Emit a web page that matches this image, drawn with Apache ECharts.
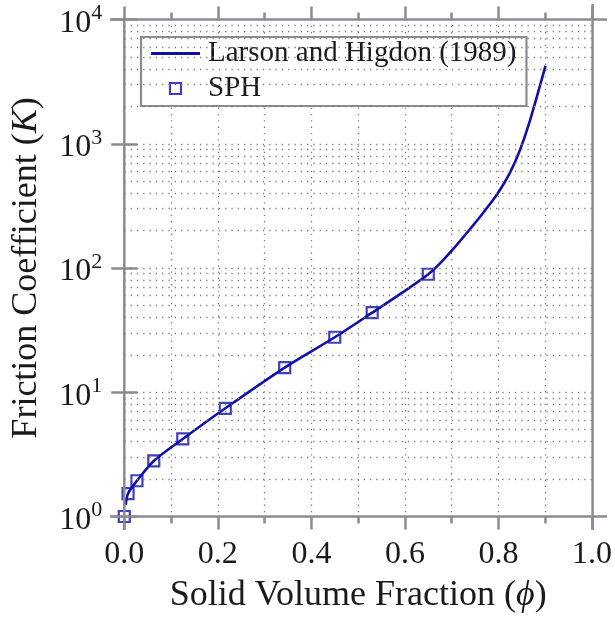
<!DOCTYPE html>
<html>
<head>
<meta charset="utf-8">
<script src="https://cdn.jsdelivr.net/npm/echarts@6/dist/echarts.min.js"></script>
<style>
html,body{margin:0;padding:0;background:#fff;}
#chart{width:615px;height:619px;}
</style>
</head>
<body>
<div id="chart"></div>
<script>
// Larson and Higdon (1989) curve
const curvePhi = [0.003, 0.008, 0.027, 0.063, 0.125, 0.216, 0.343, 0.45, 0.53, 0.603, 0.65, 0.674, 0.7025, 0.738, 0.7666, 0.7986, 0.8236, 0.845, 0.866, 0.9005];
const curveK   = [1.24, 1.53, 1.94, 2.80, 4.21, 7.43, 15.8, 27.7, 43.7, 66.7, 89.1, 108, 141, 203, 276, 400, 575, 871, 1479, 4236];
// SPH results
const sphPhi = [0, 0.008, 0.027, 0.063, 0.125, 0.216, 0.343, 0.45, 0.53, 0.65];
const sphK   = [1.0, 1.53, 1.94, 2.80, 4.21, 7.43, 15.8, 27.7, 43.7, 89.1];
// axes
const xTickLabels = ['0.0', '0.2', '0.4', '0.6', '0.8', '1.0'];
const yTickExponents = ['0', '1', '2', '3', '4'];
const yGridValues = [2,3,4,5,6,7,8,9,10,20,30,40,50,60,70,80,90,100,200,300,400,500,600,700,800,900,1000,2000,3000,4000,5000,6000,7000,8000,9000];

const FONT = '"Liberation Serif", "DejaVu Serif", serif';
const AX = '#8b8b93';
const GRIDC = '#7c7c7c';
const BLUE = '#1010a8';
const TXT = '#1a1a1a';

const L = 124.3, R = 592.6, T = 19.5, B = 516.5;

const chart = echarts.init(document.getElementById('chart'));
const dotted = {color: GRIDC, width: 1.3, type: [1.3, 5]};

const option = {
  backgroundColor: '#fff',
  animation: false,
  textStyle: {fontFamily: FONT},
  grid: {left: L, right: 615 - R, top: T, bottom: 619 - B},
  xAxis: [{
    type: 'value', min: 0, max: 1, interval: 0.2,
    axisLine: {show: false},
    axisTick: {show: true, inside: false, length: 13, lineStyle: {color: AX, width: 2.5}},
    minorTick: {show: true, splitNumber: 2, length: 7, lineStyle: {color: AX, width: 2.5}},
    splitLine: {show: true, lineStyle: dotted},
    minorSplitLine: {show: true, lineStyle: dotted},
    axisLabel: {
      margin: 22, fontSize: 32, color: TXT, fontFamily: FONT,
      formatter: (v) => xTickLabels[Math.round(v / 0.2)]
    },
    name: 'Solid Volume Fraction ({i|ϕ})',
    nameLocation: 'middle', nameGap: 61,
    nameTextStyle: {fontSize: 36, color: TXT, fontFamily: FONT,
      rich: {i: {fontSize: 36, fontStyle: 'italic', fontFamily: FONT, color: TXT}}}
  }, {
    type: 'value', min: 0, max: 1, interval: 0.2, position: 'top',
    axisLine: {show: false},
    axisTick: {show: true, length: 13, lineStyle: {color: AX, width: 2.5}},
    minorTick: {show: true, splitNumber: 2, length: 7, lineStyle: {color: AX, width: 2.5}},
    splitLine: {show: false}, axisLabel: {show: false}
  }],
  yAxis: [{
    type: 'log', logBase: 10, min: 1, max: 10000,
    axisLine: {show: false},
    axisTick: {show: true, length: 13, lineStyle: {color: AX, width: 2.5}},
    splitLine: {show: false},
    axisLabel: {
      margin: 22, color: TXT, fontFamily: FONT,
      formatter: (v) => '{b|10}{s|' + yTickExponents[Math.round(Math.log10(v))] + '}',
      rich: {
        b: {fontSize: 32, fontFamily: FONT, color: TXT, padding: [8, 0, 0, 0]},
        s: {fontSize: 22, fontFamily: FONT, color: TXT, padding: [0, 0, 12, 0]}
      }
    },
    name: 'Friction Coefficient ({i|K})',
    nameLocation: 'middle', nameGap: 80, nameRotate: 90,
    nameTextStyle: {fontSize: 36, color: TXT, fontFamily: FONT,
      rich: {i: {fontSize: 36, fontStyle: 'italic', fontFamily: FONT, color: TXT}}}
  }, {
    type: 'log', logBase: 10, min: 1, max: 10000, position: 'right',
    axisLine: {show: false},
    axisTick: {show: true, length: 13, lineStyle: {color: AX, width: 2.5}},
    splitLine: {show: false}, axisLabel: {show: false}
  }],
  legend: {
    orient: 'vertical', left: 141, top: 37,
    padding: [2, 10, 3, 10], itemGap: 6,
    itemWidth: 49, itemHeight: 11,
    backgroundColor: '#fff', borderColor: AX, borderWidth: 2.2, borderRadius: 0,
    textStyle: {fontSize: 29, fontFamily: FONT, color: TXT, padding: [0, 0, 0, 3]},
    data: [
      {name: 'Larson and Higdon (1989)', icon: 'path://M0,0H49V3H0Z', itemStyle: {color: BLUE, borderWidth: 0}},
      {name: 'SPH', icon: 'path://M0,0H10V10H0Z', itemStyle: {color: '#fff', borderColor: BLUE, borderWidth: 2.2}}
    ]
  },
  series: [{
    name: 'grid', type: 'line', data: [], silent: true, z: 1,
    markLine: {
      silent: true, symbol: ['none', 'none'], label: {show: false},
      lineStyle: dotted, emphasis: {disabled: true},
      data: yGridValues.map(v => ({yAxis: v}))
    }
  }, {
    name: 'Larson and Higdon (1989)', type: 'line', z: 3,
    data: curvePhi.map((p, i) => [p, curveK[i]]),
    showSymbol: false, symbol: 'none', smooth: 0.3,
    lineStyle: {color: BLUE, width: 2.6}, itemStyle: {color: BLUE}
  }, {
    name: 'SPH', type: 'scatter', z: 4,
    data: sphPhi.map((p, i) => [p, sphK[i]]),
    symbol: 'rect', symbolSize: 11,
    itemStyle: {color: 'rgba(255,255,255,0)', borderColor: BLUE, borderWidth: 2.2}
  }],
  graphic: [
    {type: 'line', z: 100, shape: {x1: 110, y1: T, x2: 607, y2: T}, style: {stroke: AX, lineWidth: 2.5}},
    {type: 'line', z: 100, shape: {x1: 110, y1: B, x2: 607, y2: B}, style: {stroke: AX, lineWidth: 2.5}},
    {type: 'line', z: 100, shape: {x1: L, y1: T, x2: L, y2: 530}, style: {stroke: AX, lineWidth: 2.5}},
    {type: 'line', z: 100, shape: {x1: R, y1: 4, x2: R, y2: 530}, style: {stroke: AX, lineWidth: 2.5}}
  ]
};
chart.setOption(option);
</script>
</body>
</html>
